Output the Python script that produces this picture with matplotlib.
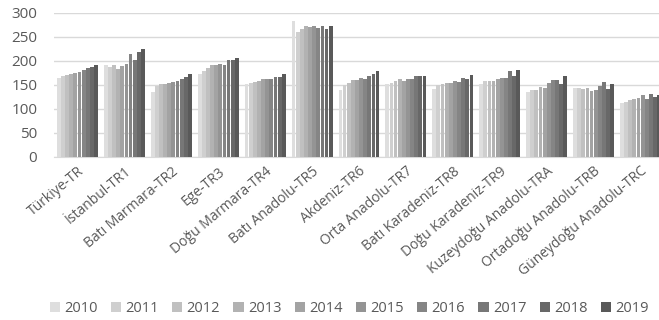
import matplotlib
matplotlib.use("Agg")
import matplotlib.pyplot as plt
import numpy as np

regions = ["Türkiye-TR", "İstanbul-TR1", "Batı Marmara-TR2", "Ege-TR3", "Doğu Marmara-TR4",
           "Batı Anadolu-TR5", "Akdeniz-TR6", "Orta Anadolu-TR7", "Batı Karadeniz-TR8",
           "Doğu Karadeniz-TR9", "Kuzeydoğu Anadolu-TRA", "Ortadoğu Anadolu-TRB",
           "Güneydoğu Anadolu-TRC"]
years = ["2010", "2011", "2012", "2013", "2014", "2015", "2016", "2017", "2018", "2019"]

turkiye = [165, 168, 171, 173, 175, 177, 180, 184, 186, 192]
istanbul = [192, 187, 190, 183, 188, 194, 213, 201, 218, 224]
bati_marmara = [135, 147, 151, 152, 153, 155, 158, 161, 166, 172]
ege = [172, 179, 185, 190, 191, 193, 191, 202, 202, 206]
dogu_marmara = [151, 153, 155, 158, 161, 162, 161, 167, 167, 172]
bati_anadolu = [283, 259, 265, 273, 269, 272, 267, 272, 265, 273]
akdeniz = [140, 150, 154, 159, 159, 163, 161, 168, 173, 179]
orta_anadolu = [151, 154, 157, 161, 158, 161, 161, 168, 168, 169]
bati_karadeniz = [141, 150, 151, 154, 154, 157, 155, 165, 161, 171]
dogu_karadeniz = [152, 158, 158, 158, 161, 165, 165, 179, 168, 180]
kuzeydogu = [134, 140, 140, 145, 143, 154, 159, 159, 151, 168]
ortadogu = [144, 143, 141, 143, 136, 140, 148, 155, 141, 152]
guneydogu = [113, 115, 118, 121, 122, 128, 121, 130, 124, 129]

data = np.array([turkiye, istanbul, bati_marmara, ege, dogu_marmara, bati_anadolu,
                 akdeniz, orta_anadolu, bati_karadeniz, dogu_karadeniz, kuzeydogu,
                 ortadogu, guneydogu])

plt.rcParams['font.family'] = ['Open Sans', 'DejaVu Sans']

fig = plt.figure(figsize=(6.59, 3.2), dpi=100)
ax = fig.add_axes([54/659, 1 - 157/320, 610/659, (157 - 12.5)/320])

n_years = len(years)
bw = 0.088
grays = np.linspace(0.87, 0.35, n_years)
x = np.arange(len(regions))
for i, yr in enumerate(years):
    offs = (i - (n_years - 1) / 2) * bw
    g = grays[i]
    ax.bar(x + offs, data[:, i], width=bw * 0.92, color=(g, g, g), label=yr, zorder=3)

ax.set_xlim(-0.5, len(regions) - 0.5)
ax.set_ylim(0, 300)
ax.set_yticks(range(0, 301, 50))
ax.yaxis.grid(True, color="#d9d9d9", linewidth=1.0, zorder=0)
for s in ["top", "right", "left"]:
    ax.spines[s].set_visible(False)
ax.spines["bottom"].set_color("#d9d9d9")
ax.tick_params(axis="y", length=0, labelsize=11, labelcolor="#595959", pad=12)
ax.tick_params(axis="x", length=0, labelsize=10, labelcolor="#595959", pad=5)
ax.set_xticks(x)
ax.set_xticklabels(regions, rotation=40, ha="right", rotation_mode="anchor")

leg = fig.legend(loc="lower center", bbox_to_anchor=(0.53, -0.03), ncol=10, frameon=False,
                 fontsize=10.5, handlelength=0.7, handleheight=0.7, handletextpad=0.3,
                 columnspacing=0.9, labelcolor="#595959")

fig.savefig("out.png", dpi=100)
